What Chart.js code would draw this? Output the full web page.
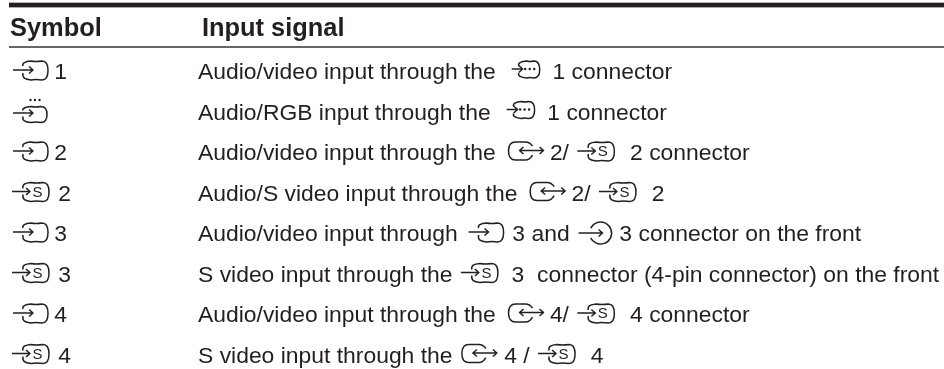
<!DOCTYPE html>
<html>
<head>
<meta charset="utf-8">
<title>Input signal</title>
<script src="https://cdn.jsdelivr.net/npm/chart.js@4"></script>
<style>
  html, body { margin: 0; padding: 0; background: #fff; }
  #box { width: 944px; height: 369px; position: relative; }
</style>
</head>
<body>
<div id="box"><canvas id="tabla"></canvas></div>
<script>
/*==========================================================

DATOS DE LA TABLA ({...} marks a connector icon inside the text)

==========================================================*/
const rows = [0, 1, 2, 3, 4, 5, 6, 7, 8];
const symbolLabels = [
  "Symbol",
  "{in} 1",
  "{rgb}",
  "{in} 2",
  "{s} 2",
  "{in} 3",
  "{s} 3",
  "{in} 4",
  "{s} 4",
];
const signalLabels = [
  "Input signal",
  "Audio/video input through the  {conn}  1 connector",
  "Audio/RGB input through the  {conn}  1 connector",
  "Audio/video input through the  {bi} 2/ {sWide}  2 connector",
  "Audio/S video input through the  {bi} 2/ {sWide}  2",
  "Audio/video input through {inNear} 3 and {front} 3 connector on the front",
  "S video input through the {sNear}  3  connector (4-pin connector) on the front",
  "Audio/video input through the  {bi} 4/ {sWide}  4 connector",
  "S video input through the {biNear} 4 / {sWide}  4",
];

/*==========================================================

ESTILOS

==========================================================*/
const inkColor = "#231f20";
const bodyFont = '22.9px "Liberation Sans"';
const headFont = 'bold 25.4px "Liberation Sans"';
// shape to draw, space before it and total advance of each icon
const icons = {
  in: { shape: "in", lead: 0, adv: 36 },
  inNear: { shape: "in", lead: 3.6, adv: 42 },
  rgb: { shape: "rgb", lead: 0, adv: 36 },
  conn: { shape: "conn", lead: 3.2, adv: 31.2 },
  s: { shape: "s", lead: 0, adv: 40 },
  sNear: { shape: "s", lead: 2, adv: 40 },
  sWide: { shape: "s", lead: 2, adv: 42 },
  bi: { shape: "bi", lead: 0, adv: 35 },
  biNear: { shape: "bi", lead: 3, adv: 39 },
  front: { shape: "front", lead: 2.6, adv: 37 },
};

// rounded tv shape, open on the left where the arrow goes in
function tvBox(ctx, x0, y0, x1, y1, gapTop, gapBottom) {
  ctx.beginPath();
  ctx.moveTo(x0, gapBottom);
  ctx.bezierCurveTo(x0 - 1, y1 - 2, x0 + 2, y1 - 0.5, x0 + 8, y1);
  ctx.quadraticCurveTo((x0 + x1) / 2, y1 - 1, x1 - 6, y1);
  ctx.bezierCurveTo(x1 - 1, y1, x1, y1 - 4, x1, (y0 + y1) / 2);
  ctx.bezierCurveTo(x1, y0 + 4, x1 - 1, y0, x1 - 6, y0);
  ctx.quadraticCurveTo((x0 + x1) / 2, y0 + 1, x0 + 8, y0);
  ctx.bezierCurveTo(x0 + 2, y0 + 0.5, x0 - 1, y0 + 2, x0, gapTop);
  ctx.stroke();
}

function arrow(ctx, x0, x1, y, both) {
  ctx.beginPath();
  ctx.moveTo(x0, y);
  ctx.lineTo(x1, y);
  ctx.moveTo(x1 - 4, y - 3.5);
  ctx.lineTo(x1, y);
  ctx.lineTo(x1 - 4, y + 3.5);
  if (both) {
    ctx.moveTo(x0 + 4, y - 3.5);
    ctx.lineTo(x0, y);
    ctx.lineTo(x0 + 4, y + 3.5);
  }
  ctx.stroke();
}

function dots(ctx, cx, y) {
  [-4.5, 0, 4.5].forEach((d) => {
    ctx.beginPath();
    ctx.arc(cx + d, y, 1.2, 0, Math.PI * 2);
    ctx.fill();
  });
}

function drawIcon(ctx, name, x, b) {
  ctx.save();
  ctx.lineWidth = 1.5;
  ctx.strokeStyle = inkColor;
  ctx.fillStyle = inkColor;
  ctx.lineJoin = "round";
  if (name === "in") {
    tvBox(ctx, x + 11, b - 18, x + 36, b + 1, b - 13, b - 6);
    arrow(ctx, x + 1, x + 21, b - 9);
  } else if (name === "rgb") {
    tvBox(ctx, x + 11, b - 13, x + 35, b + 3, b - 9, b - 3);
    arrow(ctx, x + 1, x + 21, b - 6.5);
    dots(ctx, x + 23, b - 19.5);
  } else if (name === "conn") {
    tvBox(ctx, x + 7, b - 18, x + 28, b - 1, b - 13, b - 6);
    arrow(ctx, x, x + 11, b - 10);
    dots(ctx, x + 18, b - 10);
  } else if (name === "s") {
    tvBox(ctx, x + 11, b - 18, x + 37, b + 1, b - 12, b - 6);
    arrow(ctx, x, x + 18, b - 9);
    ctx.font = '15px "Liberation Sans"';
    ctx.textAlign = "center";
    ctx.fillText("S", x + 25.5, b - 4);
  } else if (name === "bi") {
    ctx.beginPath();
    ctx.moveTo(x + 24, b - 14);
    ctx.quadraticCurveTo(x + 21, b - 18, x + 17, b - 18);
    ctx.lineTo(x + 7, b - 18);
    ctx.quadraticCurveTo(x, b - 18, x, b - 9);
    ctx.quadraticCurveTo(x, b, x + 7, b);
    ctx.lineTo(x + 17, b);
    ctx.quadraticCurveTo(x + 21, b, x + 24, b - 5);
    ctx.stroke();
    arrow(ctx, x + 11, x + 35, b - 9.5, true);
  } else if (name === "front") {
    ctx.beginPath();
    ctx.arc(x + 22, b - 8, 11, Math.PI + 0.45, 3 * Math.PI - 0.45);
    ctx.stroke();
    arrow(ctx, x, x + 24, b - 8);
  }
  ctx.restore();
}

// draws text and icons one after the other starting at x, on baseline b
function drawRun(ctx, label, x, b) {
  label.split(/(\{\w+\})/).forEach((part) => {
    if (!part) return;
    const m = part.match(/^\{(\w+)\}$/);
    if (m) {
      const icon = icons[m[1]];
      drawIcon(ctx, icon.shape, x + icon.lead, b);
      x += icon.adv;
    } else {
      ctx.fillText(part, x, b);
      x += ctx.measureText(part).width;
    }
  });
}

/*==========================================================

PLUGIN: ESCRIBE LAS CELDAS SOBRE LOS PUNTOS DEL GRAFICO

==========================================================*/
const cellsPlugin = {
  id: "cells",
  afterDatasetsDraw(chart) {
    const ctx = chart.ctx;
    const xScale = chart.scales.x;
    const yScale = chart.scales.y;
    ctx.save();
    ctx.fillStyle = inkColor;
    ctx.textBaseline = "alphabetic";
    chart.data.datasets.forEach((ds, d) => {
      chart.getDatasetMeta(d).data.forEach((pt, i) => {
        ctx.font = i === 0 ? headFont : bodyFont;
        drawRun(ctx, ds.cells[i], pt.x, pt.y);
      });
    });
    // rules of the table
    ctx.fillStyle = "#231f20";
    ctx.fillRect(xScale.getPixelForValue(9), yScale.getPixelForValue(-0.885), 935, 4.7);
    ctx.fillStyle = "#666666";
    ctx.fillRect(xScale.getPixelForValue(9), yScale.getPixelForValue(0.185), 935, 2);
    ctx.restore();
  },
};

new Chart(document.getElementById("tabla"), {
  type: "scatter",
  data: {
    datasets: [
      {
        label: "Symbol",
        cells: symbolLabels,
        data: rows.map((r) => ({ x: r === 0 ? 10 : 12, y: r === 0 ? -0.062 : r })),
        pointRadius: 0,
      },
      {
        label: "Input signal",
        cells: signalLabels,
        data: rows.map((r) => ({ x: r === 0 ? 202 : 198, y: r === 0 ? -0.062 : r })),
        pointRadius: 0,
      },
    ],
  },
  plugins: [cellsPlugin],
  options: {
    responsive: true,
    maintainAspectRatio: false,
    animation: false,
    layout: { padding: 0 },
    plugins: { legend: { display: false }, tooltip: { enabled: false } },
    scales: {
      x: { type: "linear", min: 0, max: 944, display: false },
      y: { type: "linear", reverse: true, min: -0.951, max: 8.16, display: false },
    },
  },
});
</script>
</body>
</html>
